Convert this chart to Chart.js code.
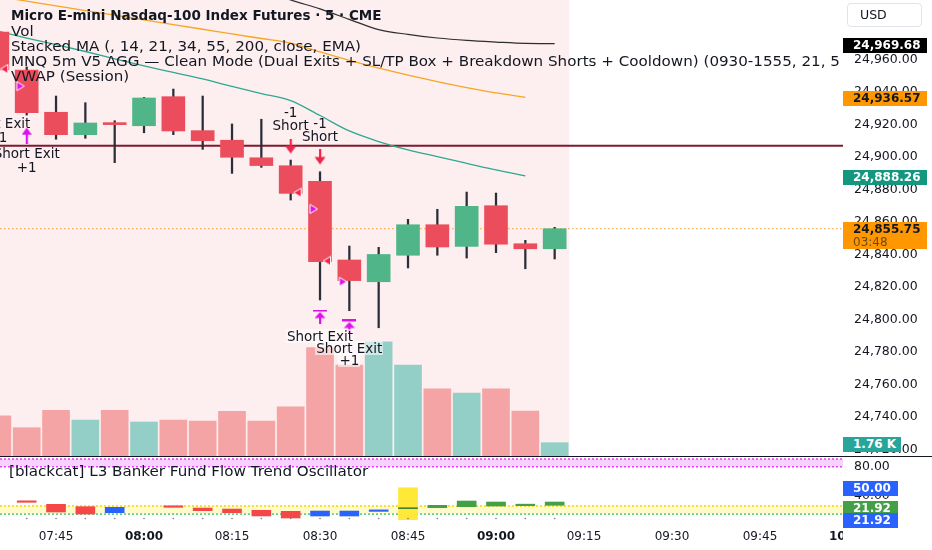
<!DOCTYPE html>
<html><head><meta charset="utf-8">
<script src="https://cdn.jsdelivr.net/npm/chart.js@4.4.0/dist/chart.umd.min.js"></script>
<style>
html,body{margin:0;padding:0;background:#fff;}
#wrap{position:relative;width:932px;height:550px;overflow:hidden;font-family:"DejaVu Sans",sans-serif;color:#131722;}
#c{position:absolute;left:0;top:0;}
#plot{position:absolute;left:0;top:0;width:843px;height:456px;overflow:hidden;pointer-events:none;}
#xclip{position:absolute;left:0;top:520px;width:843px;height:30px;overflow:hidden;}
.lg{position:absolute;left:11px;font-size:13.5px;white-space:nowrap;line-height:16px;transform-origin:0 50%;}
.tag{position:absolute;left:843px;height:15px;font-size:12px;font-weight:700;line-height:15px;padding-left:10px;box-sizing:border-box;white-space:nowrap;}
.mk{position:absolute;font-size:13.5px;white-space:nowrap;transform:translate(-50%,-50%);line-height:14px;}
</style></head><body>
<div id="wrap">
<canvas id="c" width="932" height="550"></canvas>
<div id="plot"></div>
<div id="xclip"></div>
</div>
<script>
// ---------------- data ----------------
const times = ['07:35','07:40','07:45','07:50','07:55','08:00','08:05','08:10','08:15','08:20','08:25','08:30','08:35','08:40','08:45','08:50','08:55','09:00','09:05','09:10'];
const openP  = [24976.8,24953.4,24927.4,24913.6,24920.8,24919.1,24937.0,24916.1,24910.2,24899.4,24894.5,24884.9,24836.5,24823.1,24839.4,24858.2,24844.9,24869.9,24846.5,24843.4];
const highP  = [24982.0,24955.3,24937.4,24933.3,24922.2,24936.6,24941.7,24937.4,24920.2,24923.1,24898.0,24890.8,24845.1,24844.3,24861.5,24867.7,24878.3,24877.7,24848.6,24856.6];
const lowP   = [24951.0,24925.7,24910.8,24911.4,24896.4,24914.8,24913.6,24904.6,24889.8,24893.5,24873.4,24811.9,24805.3,24794.8,24831.6,24839.4,24837.7,24841.0,24831.1,24837.1];
const closeP = [24953.4,24927.1,24913.6,24920.8,24919.8,24936.2,24915.9,24909.9,24899.7,24894.6,24877.5,24835.4,24823.8,24839.9,24858.2,24844.5,24869.5,24846.2,24843.4,24855.75];
const volumeK = [5.3,3.74,6.05,4.76,6.05,4.5,4.76,4.63,5.91,4.63,6.52,14.33,12.04,15.12,12.04,8.9,8.34,8.9,5.95,1.76];

const emaBlack  = [null,null,null,null,null,null,null,null,null,25003.0,24996.5,24991.0,24984.6,24978.3,24975.3,24973.1,24971.6,24970.6,24969.8,24969.68];
const emaOrange = [24998.7,24995.8,24992.9,24990.0,24987.2,24984.3,24981.4,24978.5,24975.6,24972.8,24970.0,24964.5,24959.3,24954.6,24950.3,24946.3,24942.6,24939.3,24936.57,null];
const emaTeal   = [24977.4,24973.1,24969.1,24964.8,24960.2,24955.9,24951.9,24947.9,24943.3,24938.9,24934.6,24925.4,24915.9,24909.4,24904.2,24900.1,24896.0,24891.9,24888.26,null];

const levelLine = 24906.8;      // maroon horizontal level
const lastPrice = 24855.75;
const countdown = '03:48';

// oscillator ([blackcat] L3 Banker Fund Flow)
const oscLow   = [null,30.2,16.6,13.8,15.7,null,23.2,18.5,15.7,11.1,8.25,11.05,11.05,17.5,5.5,22.7,24.1,25.0,25.5,26.0];
const oscHigh  = [null,31.8,27.4,24.1,23.2,null,24.2,22.2,20.8,19.0,17.6,18.0,18.0,18.5,50.6,26.0,32.0,30.6,26.2,30.6];
const oscState = [null,'down','down','down','weak',null,'down','down','down','down','down','weak','weak','weak','banker','up','up','up','up','up'];
const oscMarkIdx = [14], oscMarkLow = [21.4], oscMarkHigh = [22.6];
const oscBandHi = [90.8, 80], oscBandLo = [25, 14];
const oscTagVals = [50.00, 21.92, 21.92];

// ticks
const priceTicks = [24720,24740,24760,24780,24800,24820,24840,24860,24880,24900,24920,24940,24960];
const oscTicks = [80, 40];
const timeTicks = ['07:45','08:00','08:15','08:30','08:45','09:00','09:15','09:30','09:45'];
const clippedTimeTick = '10:00';

// strategy markers (bar index, price level)
const entryIdx = [10,11],   entryLvl = [24906.3,24899.6];          // red down arrows (Short)
const exitIdx  = [11,12],   exitLvl  = [24801.7,24795.6];          // magenta exit arrows
const coverIdx = [1],       coverLvl = [24913.0];                  // magenta up arrow
const slIdx    = [0,10,11], slLvl    = [24954.0,24877.9,24835.9];  // red left triangles
const fillIdx  = [1,11,12], fillLvl  = [24943.5,24867.9,24823.1];  // magenta right triangles
const topIdx   = [0],       topLvl   = [24983.0];                  // red down triangle
const labelIdx  = [0,0,1,1,10,10,11,11,11,12,12];
const labelLvl  = [24920.8,24912.2,24902.3,24893.7,24927.6,24919.6,24920.8,24912.8,24790.0,24782.5,24775.0];
const labelText = ['Short Exit','+1','Short Exit','+1','-1','Short','-1','Short','Short Exit','Short Exit','+1'];

const legendLines = ['Micro E-mini Nasdaq-100 Index Futures · 5 · CME','Vol','Stacked MA (, 14, 21, 34, 55, 200, close, EMA)','MNQ 5m V5 AGG — Clean Mode (Dual Exits + SL/TP Box + Breakdown Shorts + Cooldown) (0930-1555, 21, 5','VWAP (Session)'];
const oscTitle = '[blackcat] L3 Banker Fund Flow Trend Oscillator';

// ---------------- helpers ----------------
const toMin = t => { const [h,m] = t.split(':').map(Number); return h*60+m; };
const idxOf = t => (toMin(t) - toMin(times[0])) / 5;
const labelOf = v => { const m = toMin(times[0]) + Math.round(v*5); return String(Math.floor(m/60)).padStart(2,'0')+':'+String(m%60).padStart(2,'0'); };
const fmt = v => v.toLocaleString('en-US',{minimumFractionDigits:2,maximumFractionDigits:2});
const pts = (idx, vals) => vals.map((v,k) => ({x: idx[k], y: v}));
const series = vals => vals.map((v,i) => ({x:i, y:v}));

const COL = {red:'#EB4D5C', green:'#50B68A', wick:'#2A2E39', volRed:'#F5A4A5', volGreen:'#93CFC7', mag:'#DD11EE', sig:'#F0254A'};
const oscCol = {down:'#F44848', weak:'#2962FF', up:'#43A047', banker:'#FFE838'};

function mk(w,h,draw){const c=document.createElement('canvas');c.width=w;c.height=h;draw(c.getContext('2d'));return c;}
const imgArrowDown = mk(12,16,g=>{g.fillStyle=COL.sig;g.fillRect(5,0,2.2,9);g.beginPath();g.moveTo(0.5,7.5);g.lineTo(11.5,7.5);g.lineTo(6,15);g.closePath();g.fill();});
const imgArrowUp = mk(10,16,g=>{g.fillStyle=COL.mag;g.fillRect(4,6,2.2,10);g.beginPath();g.moveTo(0,7);g.lineTo(10,7);g.lineTo(5,0);g.closePath();g.fill();});
const imgExit = mk(14,14,g=>{g.fillStyle=COL.mag;g.fillRect(0,0,14,2);g.beginPath();g.moveTo(1.5,8.5);g.lineTo(12.5,8.5);g.lineTo(7,2.5);g.closePath();g.fill();g.fillRect(6,8,2.2,6);});
const imgTriL = mk(30,11,g=>{g.fillStyle=COL.sig;g.strokeStyle='#fff';g.lineWidth=1;g.beginPath();g.moveTo(18,5.5);g.lineTo(25.5,1);g.lineTo(25.5,10);g.closePath();g.fill();g.stroke();});
const imgTriR = mk(30,11,g=>{g.fillStyle=COL.mag;g.strokeStyle='#fff';g.lineWidth=1;g.beginPath();g.moveTo(12.5,5.5);g.lineTo(5,1);g.lineTo(5,10);g.closePath();g.fill();g.stroke();});
const imgTriD = mk(20,9,g=>{g.fillStyle=COL.sig;g.beginPath();g.moveTo(1,1);g.lineTo(9,1);g.lineTo(5,7);g.closePath();g.fill();});

const up = i => closeP[i] >= openP[i];
const n = times.length;
const xMin = 0.09, xMax = 28.83;
const hline = (y) => [{x:xMin,y},{x:xMax,y}];

const scatter = (idx, lvl, img) => ({type:'scatter', data: pts(idx,lvl), yAxisID:'y', pointStyle: img, pointRadius: 8, order: 0});

const paneBg = {
  id:'paneBg',
  beforeDatasetsDraw(chart){
    const {ctx, scales:{x,y}} = chart;
    ctx.save();
    ctx.fillStyle = '#FDEEEF';
    const xr = x.getPixelForValue(n - 0.5);
    ctx.fillRect(x.left, y.top, xr - x.left, y.bottom - y.top);
    ctx.restore();
  },
  afterDatasetsDraw(chart){
    const {ctx, scales:{yOsc}} = chart;
    ctx.save();
    ctx.strokeStyle = '#131722'; ctx.lineWidth = 1.2;
    ctx.beginPath(); ctx.moveTo(0, yOsc.top + 0.5); ctx.lineTo(chart.width, yOsc.top + 0.5); ctx.stroke();
    ctx.restore();
  }
};

const datasets = [
  // volume
  {type:'bar', yAxisID:'yVol', grouped:false, barThickness:27, order:20,
   data: series(volumeK), backgroundColor: volumeK.map((v,i)=> up(i)?COL.volGreen:COL.volRed)},
  // level lines
  {type:'line', yAxisID:'y', data: hline(levelLine), borderColor:'#7E1A2C', borderWidth:2, pointRadius:0, order:15},
  {type:'line', yAxisID:'y', data: hline(lastPrice), borderColor:'#F7A035', borderWidth:1, borderDash:[1.5,2.5], pointRadius:0, order:15},
  // EMAs
  {type:'line', yAxisID:'y', data: series(emaBlack), borderColor:'#2E2E2E', borderWidth:1.2, pointRadius:0, cubicInterpolationMode:'monotone', order:14},
  {type:'line', yAxisID:'y', data: series(emaOrange), borderColor:'#F7A624', borderWidth:1.3, pointRadius:0, cubicInterpolationMode:'monotone', order:14},
  {type:'line', yAxisID:'y', data: series(emaTeal), borderColor:'#2FA88F', borderWidth:1.3, pointRadius:0, cubicInterpolationMode:'monotone', order:14},
  // candles
  {type:'bar', yAxisID:'y', grouped:false, barThickness:1.6, order:6,
   data: times.map((t,i)=>({x:i, y:[lowP[i], highP[i]]})), backgroundColor: COL.wick},
  {type:'bar', yAxisID:'y', grouped:false, barThickness:23, minBarLength:2, order:5,
   data: times.map((t,i)=>({x:i, y:[openP[i], closeP[i]]})), backgroundColor: times.map((t,i)=> up(i)?COL.green:COL.red)},
  // markers
  scatter(entryIdx, entryLvl, imgArrowDown),
  scatter(exitIdx, exitLvl, imgExit),
  scatter(coverIdx, coverLvl, imgArrowUp),
  scatter(slIdx, slLvl, imgTriL),
  scatter(fillIdx, fillLvl, imgTriR),
  scatter(topIdx, topLvl, imgTriD),
  // oscillator bands
  {type:'line', yAxisID:'yOsc', data: hline(oscBandHi[0]), borderColor:'#E040FB', borderWidth:1.5, borderDash:[2,2], pointRadius:0, fill:{value:oscBandHi[1]}, backgroundColor:'rgba(230,90,250,0.28)', order:12},
  {type:'line', yAxisID:'yOsc', data: hline(oscBandHi[1]), borderColor:'#E040FB', borderWidth:1.5, borderDash:[2,2], pointRadius:0, order:12},
  {type:'line', yAxisID:'yOsc', data: hline(oscBandLo[0]), borderColor:'#F2D600', borderWidth:1.5, borderDash:[2,2], pointRadius:0, fill:{value:oscBandLo[1]}, backgroundColor:'rgba(255,238,80,0.30)', order:12},
  {type:'line', yAxisID:'yOsc', data: hline(oscBandLo[1]), borderColor:'#3DBE6A', borderWidth:1.5, borderDash:[2,2], pointRadius:0, order:12},
  // oscillator bars
  {type:'bar', yAxisID:'yOsc', grouped:false, barThickness:19, minBarLength:1.5, order:4,
   data: times.map((t,i)=>({x:i, y: oscLow[i]===null?null:[oscLow[i], oscHigh[i]]})),
   backgroundColor: oscState.map(s => s ? oscCol[s] : 'rgba(0,0,0,0)')},
  {type:'bar', yAxisID:'yOsc', grouped:false, barThickness:19, order:3,
   data: oscMarkIdx.map((i,k)=>({x:i, y:[oscMarkLow[k], oscMarkHigh[k]]})), backgroundColor:'#2E7D32'},
  {type:'scatter', yAxisID:'yOsc', data: times.map((t,i)=>({x:i, y:7.5})), pointRadius:0.8, pointBackgroundColor:'#777', pointBorderWidth:0, order:2}
];

const tickFont = {family:'DejaVu Sans', size:12.5};
const noPadV = s => { s.width = 89; s.paddingTop = 0; s.paddingBottom = 0; s.paddingLeft = 0; s.paddingRight = 0; };

const chart = new Chart(document.getElementById('c'), {
  type:'bar',
  data:{datasets},
  plugins:[paneBg],
  options:{
    responsive:false, animation:false, events:[],
    layout:{padding:0, autoPadding:false},
    plugins:{legend:{display:false}, tooltip:{enabled:false}},
    scales:{
      x:{type:'linear', min:xMin, max:xMax, offset:false,
         grid:{display:false, drawTicks:false}, border:{display:false},
         afterBuildTicks: s => { s.ticks = timeTicks.map(t => ({value: idxOf(t)})); },
         afterFit: s => { s.height = 30; s.paddingLeft = 0; s.paddingRight = 0; s.paddingTop = 0; s.paddingBottom = 0; },
         ticks:{padding:10, maxRotation:0, autoSkip:false, color:'#131722',
           font: ctx => ({family:'DejaVu Sans', size:12, weight: (ctx.tick && labelOf(ctx.tick.value).endsWith(':00')) ? 'bold' : 'normal'}),
           callback: v => labelOf(v)}},
      y:{type:'linear', position:'right', stack:'panes', stackWeight:456,
         min: 24960 - (456-59.3)/1.625, max: 24960 + 59.3/1.625,
         grid:{display:false, drawTicks:false}, border:{display:false},
         afterBuildTicks: s => { s.ticks = priceTicks.map(v => ({value:v})); },
         afterFit: noPadV,
         ticks:{padding:11, autoSkip:false, color:'#131722', font:tickFont, callback: v => fmt(v)}},
      yOsc:{type:'linear', position:'right', stack:'panes', stackWeight:64,
         min: 80 - (520-466.7)/0.715, max: 80 + (466.7-456)/0.715,
         grid:{display:false, drawTicks:false}, border:{display:false},
         afterBuildTicks: s => { s.ticks = oscTicks.map(v => ({value:v})); },
         afterFit: noPadV,
         ticks:{padding:11, autoSkip:false, color:'#131722', font:tickFont, callback: v => fmt(v)}},
      yVol:{type:'linear', display:false, min: -64*0.1323, max: 456*0.1323}
    }
  }
});

// ---------------- text overlays ----------------
const wrap = document.getElementById('wrap'), plot = document.getElementById('plot');
const X = chart.scales.x, Y = chart.scales.y, YO = chart.scales.yOsc, YV = chart.scales.yVol;

function div(parent, cls, text, css){ const d=document.createElement('div'); if(cls) d.className=cls; d.textContent=text; Object.assign(d.style, css||{}); parent.appendChild(d); return d; }

// legend
const lgTops = [7,23,37.5,53,68];
legendLines.forEach((t,k)=> div(plot,'lg',t,{top:lgTops[k]+'px', fontWeight: k===0?'600':'400', transform: k===0?'scaleX(1.0)':'scaleX(1.12)'}));
div(wrap,'lg',oscTitle,{top:(YO.top+7)+'px', left:'9px', transform:'scaleX(1.12)'});

// marker labels
labelText.forEach((t,k)=>{
  const bg = (labelLvl[k] < 24800) ? 'rgba(255,255,255,0.55)' : 'transparent';
  div(plot,'mk',t,{left:X.getPixelForValue(labelIdx[k])+'px', top:Y.getPixelForValue(labelLvl[k])+'px', background:bg, padding:'0 1px'});
});

// clipped 10:00 time label
div(document.getElementById('xclip'),'',clippedTimeTick,{position:'absolute', left:(X.getPixelForValue(idxOf(clippedTimeTick)))+'px', top:'9px', transform:'translateX(-50%)', fontSize:'12px', fontWeight:'bold'});

// currency box
div(wrap,'','USD',{position:'absolute', left:'847px', top:'3px', width:'75px', height:'24px', border:'1px solid #E0E3EB', borderRadius:'4px', boxSizing:'border-box', fontSize:'12.5px', lineHeight:'22px', paddingLeft:'12px'});

// price tags
function tag(text, yc, bg, fg, w){ return div(wrap,'tag',text,{top:(yc-7)+'px', width:w+'px', background:bg, color:fg}); }
tag(fmt(emaBlack[n-1]), Y.getPixelForValue(emaBlack[n-1])+1, '#000', '#fff', 84);
tag(fmt(emaOrange[n-2]), Y.getPixelForValue(emaOrange[n-2])+1, '#FF9800', '#131722', 84);
tag(fmt(emaTeal[n-2]), Y.getPixelForValue(emaTeal[n-2])+1, '#14977F', '#fff', 84);
const cur = tag(fmt(lastPrice), Y.getPixelForValue(lastPrice), '#FF9800', '#131722', 84);
cur.style.height='27px'; cur.style.lineHeight='13px'; cur.style.paddingTop='1px';
cur.innerHTML = fmt(lastPrice) + '<br><span style="font-weight:400;color:#6b4a10">' + countdown + '</span>';
tag(volumeK[n-1].toFixed(2)+' K', YV.getPixelForValue(volumeK[n-1])+1, '#26A69A', '#fff', 58);
tag(fmt(oscTagVals[0]), YO.getPixelForValue(oscTagVals[0]), '#2962FF', '#fff', 55);
const g1 = YO.getPixelForValue(oscTagVals[1]);
tag(fmt(oscTagVals[1]), g1, '#43A047', '#fff', 55);
tag(fmt(oscTagVals[2]), g1 + 12, '#2962FF', '#fff', 55);
</script>
</body></html>
